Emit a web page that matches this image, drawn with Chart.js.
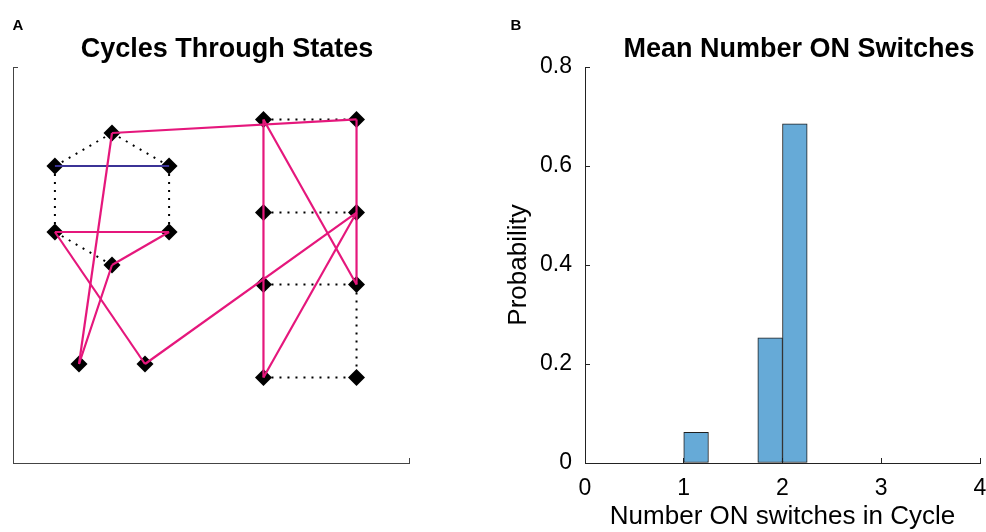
<!DOCTYPE html>
<html>
<head>
<meta charset="utf-8">
<script src="https://cdn.jsdelivr.net/npm/chart.js@4"></script>
<style>
  html, body { margin: 0; padding: 0; background: #fff; overflow: hidden; }
  #wrap { position: relative; width: 986px; height: 532px; }
  #boxA { position: absolute; left: 0; top: 0; }
  #boxB { position: absolute; left: 454px; top: 0; }
</style>
</head>
<body>
<div id="wrap">
  <div id="boxA"><canvas id="cycles" width="454" height="532"></canvas></div>
  <div id="boxB"><canvas id="switches" width="532" height="532"></canvas></div>
</div>
<script>
// Panel A - states (hexagon + ladder) and the cycle through them
const nodeX = [3, 1.27, 4.73, 1.27, 4.73, 3, 2, 4, 7.59, 10.41, 7.59, 10.41, 7.59, 10.41, 7.59, 10.41];
const nodeY = [10, 9, 9, 7, 7, 6, 3, 3, 10.41, 10.41, 7.59, 7.59, 5.41, 5.41, 2.59, 2.59];
// only the dotted links that are not hidden under the cycle
const dottedEdges = [[0, 1], [0, 2], [1, 3], [2, 4], [3, 5],
  [8, 9], [10, 11], [12, 13], [14, 15], [13, 15]];
const blueEdges = [[1, 2]];
const cycleEdges = [[0, 9], [9, 13], [13, 8], [8, 14], [14, 11], [11, 7], [7, 3], [3, 4], [4, 5], [5, 6], [6, 0]];
const limitsA = [0, 12];

// Panel B - histogram of ON switches per cycle
const binEdges = [1, 1.25, 1.5, 1.75, 2, 2.25];
const probability = [0.062, 0, 0, 0.253, 0.685];
const xTicks = [0, 1, 2, 3, 4];
const yTicks = [0, 0.2, 0.4, 0.6, 0.8];

Chart.defaults.font.family = "'Liberation Sans', Arial, Helvetica, sans-serif";
Chart.defaults.color = '#000';

// draws titles / panel letters where the figure has them
const panelText = {
  id: 'panelText',
  afterDraw(chart, args, opts) {
    const ctx = chart.ctx;
    ctx.save();
    ctx.fillStyle = '#000';
    ctx.textBaseline = 'alphabetic';
    opts.items.forEach(t => {
      ctx.font = t.font;
      ctx.textAlign = t.align;
      ctx.fillText(t.text, t.x, t.y);
    });
    ctx.restore();
  }
};

function edgeSet(e, color, width, dash, order) {
  return {
    data: [{ x: nodeX[e[0]], y: nodeY[e[0]] }, { x: nodeX[e[1]], y: nodeY[e[1]] }],
    showLine: true,
    borderColor: color,
    borderWidth: width,
    borderDash: dash,
    borderCapStyle: 'butt',
    pointRadius: 0,
    pointHoverRadius: 0,
    order: order
  };
}

const fixedTicks = vals => s => { s.ticks = vals.map(v => ({ value: v })); };

const datasetsA = [
  ...cycleEdges.map(e => edgeSet(e, '#e5177c', 2.2, [], 0)),
  ...blueEdges.map(e => edgeSet(e, '#3b3396', 2, [], 1)),
  {
    data: nodeX.map((x, i) => ({ x: x, y: nodeY[i] })),
    pointStyle: 'rectRot',
    pointRadius: 8.5,
    pointHoverRadius: 8.5,
    backgroundColor: '#000',
    borderColor: '#000',
    borderWidth: 0,
    showLine: false,
    order: 2
  },
  ...dottedEdges.map(e => edgeSet(e, '#000', 2, [2, 6], 3))
];

const axisA = {
  type: 'linear',
  min: limitsA[0],
  max: limitsA[1],
  afterBuildTicks: fixedTicks(limitsA),
  ticks: { display: false },
  grid: { display: true, drawOnChartArea: false, tickLength: -5, tickColor: '#444', tickWidth: 1 },
  border: { display: true, color: '#444', width: 1 }
};

new Chart(document.getElementById('cycles'), {
  type: 'scatter',
  data: { datasets: datasetsA },
  options: {
    responsive: false,
    animation: false,
    layout: { padding: { left: 13, right: 45, top: 67, bottom: 69 } },
    plugins: {
      legend: { display: false },
      tooltip: { enabled: false },
      panelText: {
        items: [
          { text: 'A', x: 12.5, y: 30, align: 'left', font: "bold 15px 'Liberation Sans', Arial, sans-serif" },
          { text: 'Cycles Through States', x: 227, y: 56.5, align: 'center', font: "bold 27px 'Liberation Sans', Arial, sans-serif" }
        ]
      }
    },
    scales: {
      x: { ...axisA, afterFit: s => { s.height = 0; } },
      y: { ...axisA, afterFit: s => { s.width = 0; } }
    }
  },
  plugins: [panelText]
});

const axisTickFont = { size: 23 };
const axisTitleFont = { size: 26 };

new Chart(document.getElementById('switches'), {
  type: 'bar',
  data: {
    datasets: [{
      data: probability.map((p, i) => ({ x: (binEdges[i] + binEdges[i + 1]) / 2, y: p })),
      backgroundColor: '#66aad7',
      borderColor: '#1f1f1f',
      borderWidth: 1,
      borderSkipped: false,
      barPercentage: 1,
      categoryPercentage: 1
    }]
  },
  options: {
    responsive: false,
    animation: false,
    layout: { padding: { left: 40, right: 6, top: 67, bottom: 0 } },
    plugins: {
      legend: { display: false },
      tooltip: { enabled: false },
      panelText: {
        items: [
          { text: 'B', x: 56.5, y: 30, align: 'left', font: "bold 15px 'Liberation Sans', Arial, sans-serif" },
          { text: 'Mean Number ON Switches', x: 345, y: 56.5, align: 'center', font: "bold 27px 'Liberation Sans', Arial, sans-serif" }
        ]
      }
    },
    scales: {
      x: {
        type: 'linear',
        offset: false,
        min: xTicks[0],
        max: xTicks[xTicks.length - 1],
        afterBuildTicks: fixedTicks(xTicks),
        afterFit: s => { s.height = 69; s.paddingLeft = 0; s.paddingRight = 0; },
        grid: { display: true, offset: false, drawOnChartArea: false, tickLength: -5, tickColor: '#222', tickWidth: 1 },
        border: { display: true, color: '#222', width: 1 },
        ticks: { font: axisTickFont, padding: 17, maxRotation: 0, autoSkip: false },
        title: { display: true, text: 'Number ON switches in Cycle', font: axisTitleFont, padding: { top: 0, bottom: 0 } }
      },
      y: {
        type: 'linear',
        min: yTicks[0],
        max: yTicks[yTicks.length - 1],
        afterBuildTicks: fixedTicks(yTicks),
        afterFit: s => { s.width = 91; },
        grid: { display: true, drawOnChartArea: false, tickLength: -5, tickColor: '#222', tickWidth: 1 },
        border: { display: true, color: '#222', width: 1 },
        ticks: { font: axisTickFont, padding: 18, autoSkip: false },
        title: { display: true, text: 'Probability', font: axisTitleFont, padding: { top: 9, bottom: 0 } }
      }
    }
  },
  plugins: [panelText]
});
</script>
</body>
</html>
